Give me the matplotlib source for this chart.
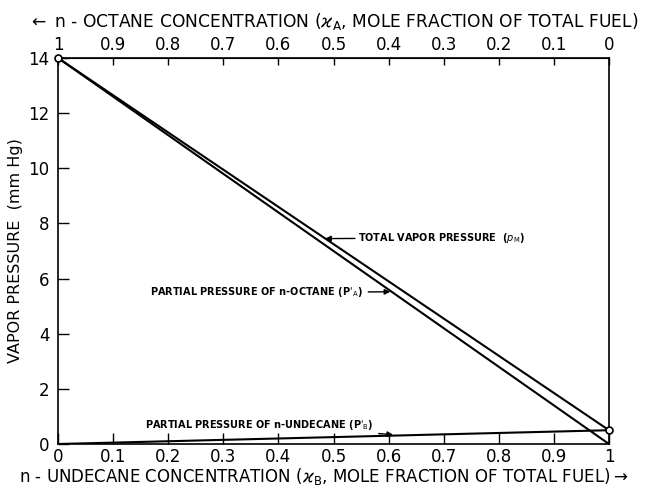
import matplotlib
matplotlib.use("Agg")
import matplotlib.pyplot as plt

# mole fraction of n-undecane (bottom axis)
x_b = [0.0, 1.0]
p_octane = [14.0, 0.0]      # partial pressure of n-octane
p_undecane = [0.0, 0.5]     # partial pressure of n-undecane
p_total = [14.0, 0.5]       # total vapor pressure

bottom_ticks = [0, 0.1, 0.2, 0.3, 0.4, 0.5, 0.6, 0.7, 0.8, 0.9, 1]
bottom_labels = ["0", "0.1", "0.2", "0.3", "0.4", "0.5", "0.6", "0.7", "0.8", "0.9", "1"]
top_ticks = [1, 0.9, 0.8, 0.7, 0.6, 0.5, 0.4, 0.3, 0.2, 0.1, 0]
top_labels = ["1", "0.9", "0.8", "0.7", "0.6", "0.5", "0.4", "0.3", "0.2", "0.1", "0"]
y_ticks = [0, 2, 4, 6, 8, 10, 12, 14]

plt.rcParams['font.family'] = ['DejaVu Sans']

fig = plt.figure(figsize=(6.47, 4.86), dpi=100)
ax = fig.add_axes([58 / 647, 42 / 486, 551 / 647, 386 / 486])

ax.plot(x_b, p_octane, color='black', lw=1.5)
ax.plot(x_b, p_total, color='black', lw=1.5)
ax.plot(x_b, p_undecane, color='black', lw=1.5)
ax.plot([x_b[0], x_b[1]], [p_total[0], p_total[1]], ls='none', marker='o',
        ms=5, mfc='white', mec='black', mew=1.2, clip_on=False, zorder=5)

ax.set_xlim(0, 1)
ax.set_ylim(0, 14)
ax.set_xticks(bottom_ticks)
ax.set_xticklabels(bottom_labels, fontsize=12)
ax.set_yticks(y_ticks)
ax.set_yticklabels([str(v) for v in y_ticks], fontsize=12)
ax.tick_params(axis='x', direction='in', length=8, width=1, pad=3)
ax.tick_params(axis='y', direction='in', length=8, width=1, pad=6)
for s in ax.spines.values():
    s.set_linewidth(1.2)

top = ax.secondary_xaxis('top', functions=(lambda v: 1 - v, lambda v: 1 - v))
top.set_xticks(top_ticks)
top.set_xticklabels(top_labels, fontsize=12)
top.tick_params(direction='in', length=5, width=1, pad=3)

ax.set_xlabel(r"n - UNDECANE CONCENTRATION ($\varkappa_{\rm B}$, MOLE FRACTION OF TOTAL FUEL)$\rightarrow$",
              fontsize=12)
ax.xaxis.set_label_coords(0.482, -0.058)
top.set_xlabel(r"$\leftarrow$ n - OCTANE CONCENTRATION ($\varkappa_{\rm A}$, MOLE FRACTION OF TOTAL FUEL)",
               fontsize=12.3, labelpad=6)
ax.set_ylabel("VAPOR PRESSURE  (mm Hg)", fontsize=11.5, labelpad=4)

ann = dict(fontsize=7, fontweight='bold', va='center')
ax.annotate(r"TOTAL VAPOR PRESSURE  ($p_{\rm M}$)", xy=(0.485, 7.45), xytext=(0.544, 7.47),
            ha='left', arrowprops=dict(arrowstyle='-|>', color='black', lw=1, shrinkA=0, shrinkB=0,
                                       mutation_scale=8), **ann)
ax.annotate(r"PARTIAL PRESSURE OF n-OCTANE (P$'_{\rm A}$)", xy=(0.603, 5.52), xytext=(0.553, 5.5),
            ha='right', arrowprops=dict(arrowstyle='-|>', color='black', lw=1, shrinkA=2, shrinkB=0,
                                        mutation_scale=8), **ann)
ax.annotate(r"PARTIAL PRESSURE OF n-UNDECANE (P$'_{\rm B}$)", xy=(0.608, 0.34), xytext=(0.572, 0.69),
            ha='right', arrowprops=dict(arrowstyle='-|>', color='black', lw=1, shrinkA=2, shrinkB=0,
                                        mutation_scale=8), **ann)

fig.savefig("out.png", dpi=100)
